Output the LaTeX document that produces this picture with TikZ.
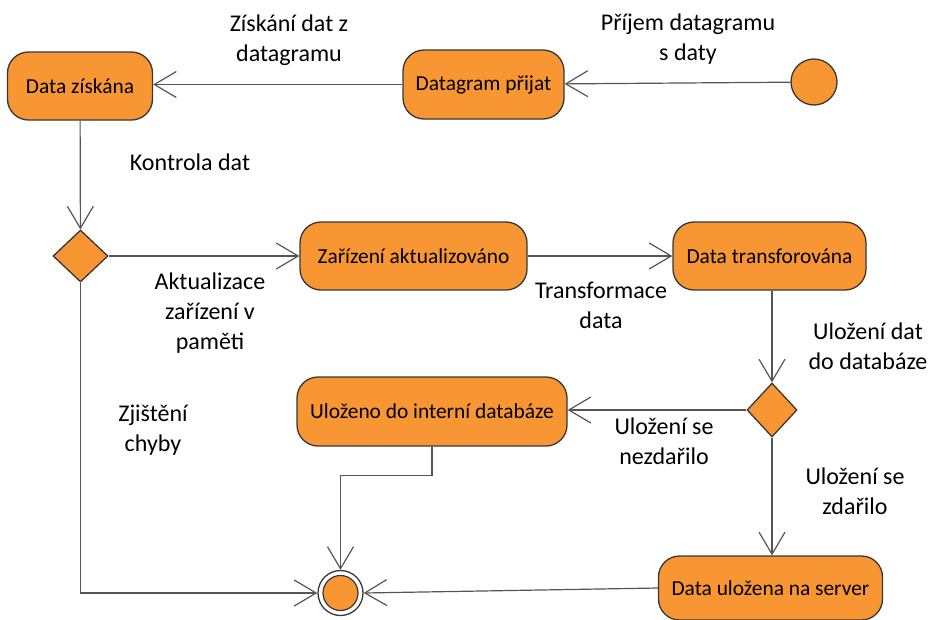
\documentclass[tikz,border=0pt]{standalone}
\usepackage{fontspec}
\setmainfont{Carlito}
\usetikzlibrary{arrows.meta,shapes.geometric}
\definecolor{actfill}{RGB}{247,150,50}
\definecolor{actline}{RGB}{55,55,55}
\definecolor{flowline}{RGB}{85,85,85}
\tikzset{
  activity/.style={draw=actline, fill=actfill, line width=1.3pt, rounded corners=21pt,
    inner sep=0pt, font=\fontsize{21.4}{26}\selectfont},
  decision/.style={draw=actline, fill=actfill, line width=1.3pt, diamond, inner sep=0pt},
  flow/.style={draw=flowline, line width=1.2pt, -{Straight Barb[length=22pt,width=26pt,line width=1.2pt]}},
  lbl/.style={align=center, font=\fontsize{24}{30}\selectfont, inner sep=0pt},
}
\begin{document}
\begin{tikzpicture}[x=1pt,y=-1pt]
\useasboundingbox (0,0) rectangle (929,619);

% activities
\node[activity, minimum width=145pt, minimum height=68pt] (ziskana) at (80,86) {Data získána};
\node[activity, minimum width=161pt, minimum height=69pt] (prijat) at (483.5,84.5) {Datagram přijat};
\node[activity, minimum width=227pt, minimum height=68pt] (zarizeni) at (413.5,256) {Zařízení aktualizováno};
\node[activity, minimum width=193pt, minimum height=68pt] (transf) at (769.5,256) {Data transforována};
\node[activity, minimum width=270pt, minimum height=69pt] (interni) at (432,411.5) {Uloženo do interní databáze};
\node[activity, minimum width=224pt, minimum height=64pt] (server) at (770.5,588) {Data uložena na server};

% start, decisions, end
\node[circle, draw=actline, fill=actfill, line width=1.3pt, minimum size=46pt, inner sep=0pt] (start) at (814,82) {};
\node[decision, minimum width=55pt, minimum height=52pt] (d1) at (80.5,256) {};
\node[decision, minimum width=50pt, minimum height=54pt] (d2) at (772,410) {};
\node[circle, draw=actline, line width=1.3pt, minimum size=45pt, inner sep=0pt] (final) at (340.5,593) {};
\node[circle, draw=actline, fill=actfill, line width=1.2pt, minimum size=35pt, inner sep=0pt] (finalin) at (final.center) {};

% flows
\draw[flow] (start) -- (prijat);
\draw[flow] (prijat) -- (ziskana.east |- prijat.west);
\draw[flow] (ziskana) -- (d1);
\draw[flow] (d1) -- (zarizeni);
\draw[flow] (zarizeni) -- (transf);
\draw[flow] (transf.south -| d2.north) -- (d2);
\draw[flow] (d2) -- (interni.east |- d2.west);
\draw[flow] (d2) -- (server.north -| d2.south);
\draw[flow] (interni.south) -- ++(0,29) -| (final.north);
\draw[flow] (server.west) -- (final.east);
\draw[flow] (d1.south) |- (final.west);

% flow labels
\node[lbl] (l1) at (289,40) {Získání dat z\\datagramu};
\node[lbl] (l2) at (688,39) {Příjem datagramu\\s daty};
\node[lbl] (l3) at (190,162) {Kontrola dat};
\node[lbl] (l4) at (210,313) {Aktualizace\\zařízení v\\paměti};
\node[lbl] (l5) at (601,305) {Transformace\\data};
\node[lbl] (l6) at (868,346) {Uložení dat\\do databáze};
\node[lbl] (l7) at (153,430) {Zjištění\\chyby};
\node[lbl] (l8) at (664,441) {Uložení se\\nezdařilo};
\node[lbl] (l9) at (855,491) {Uložení se\\zdařilo};
\end{tikzpicture}
\end{document}
